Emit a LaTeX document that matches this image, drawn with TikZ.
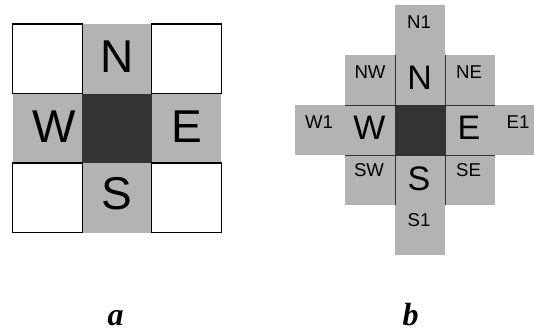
\documentclass[tikz,border=0pt]{standalone}
\usepackage{fontspec}
\setmainfont{Liberation Sans}
\newfontfamily\captionfont{Liberation Serif}
\definecolor{cellgray}{HTML}{B3B3B3}
\definecolor{cellcore}{HTML}{333333}
\tikzset{
  cellbox/.style={rectangle, inner sep=0pt, outer sep=0pt},
  acell/.style={cellbox, minimum size=69.5pt},
  bcell/.style={cellbox, minimum size=50pt, fill=cellgray},
  emptycell/.style={acell, fill=white, draw=black, line width=1.2pt},
  graycell/.style={acell, fill=cellgray},
  corecell/.style={fill=cellcore},
  biglabel/.style={inner sep=0pt, anchor=base, font=\fontsize{46}{46}\selectfont},
  midlabel/.style={inner sep=0pt, anchor=base, font=\fontsize{34}{34}\selectfont},
  smalllabel/.style={inner sep=0pt, anchor=base, font=\fontsize{18.6}{18.6}\selectfont},
  caption/.style={inner sep=0pt, anchor=base, text depth=0pt, font=\captionfont\bfseries\itshape\fontsize{32}{32}\selectfont},
  gridline/.style={draw=cellcore, line width=0.9pt},
}
\begin{document}
\begin{tikzpicture}[x=1pt,y=-1pt]
\useasboundingbox (0,0) rectangle (534,329);
\clip (0,0) rectangle (534,329);

% ---- part a: 3x3 neighbourhood ----
\node[graycell] (aN) at (117,58.75) {};
\node[graycell] (aW) at (47.5,128.25) {};
\node[graycell] (aE) at (186.5,128.25) {};
\node[graycell] (aS) at (117,197.75) {};
\node[acell, corecell] (aC) at (117,128.25) {};
\node[emptycell] (aNW) at (47.5,58.75) {};
\node[emptycell] (aNE) at (186.5,58.75) {};
\node[emptycell] (aSW) at (47.5,197.75) {};
\node[emptycell] (aSE) at (186.5,197.75) {};

\node[biglabel] (aNt) at (117.5,72.7) {N};
\node[biglabel] (aWt) at (54,142.7) {W};
\node[biglabel] (aEt) at (187,142.7) {E};
\node[biglabel] (aSt) at (117,209.3) {S};

% ---- part b: extended neighbourhood ----
\node[bcell] (bN1) at (420,30) {};
\node[bcell] (bNW) at (370,80) {};
\node[bcell] (bN)  at (420,80) {};
\node[bcell] (bNE) at (470,80) {};
\node[bcell] (bW1) at (320,130) {};
\node[bcell] (bW)  at (370,130) {};
\node[bcell, corecell] (bC) at (420,130) {};
\node[bcell] (bE)  at (470,130) {};
\node[bcell] (bE1) at (520,130) {};
\node[bcell] (bSW) at (370,180) {};
\node[bcell] (bS)  at (420,180) {};
\node[bcell] (bSE) at (470,180) {};
\node[bcell] (bS1) at (420,230) {};

\draw[gridline] (bNW.north east) -- (bSW.south east);
\draw[gridline] (bNE.north west) -- (bSE.south west);
\draw[gridline] (bNW.south west) -- (bNE.south east);
\draw[gridline] (bSW.north west) -- (bSE.north east);

\node[smalllabel] (bN1t) at (419,28.3) {N1};
\node[smalllabel] (bNWt) at (370,78.3) {NW};
\node[midlabel]   (bNt)  at (419.7,89.3) {N};
\node[smalllabel] (bNEt) at (469,78.3) {NE};
\node[smalllabel] (bW1t) at (319,128.3) {W1};
\node[midlabel]   (bWt)  at (369.5,139.3) {W};
\node[midlabel]   (bEt)  at (469,139.3) {E};
\node[smalllabel] (bE1t) at (518,128.3) {E1};
\node[smalllabel] (bSWt) at (369,176) {SW};
\node[midlabel]   (bSt)  at (419,190) {S};
\node[smalllabel] (bSEt) at (468.5,176) {SE};
\node[smalllabel] (bS1t) at (419,226.7) {S1};

% ---- captions ----
\node[caption] (capa) at (115.5,325) {a};
\node[caption] (capb) at (410.7,325) {b};
\end{tikzpicture}
\end{document}
